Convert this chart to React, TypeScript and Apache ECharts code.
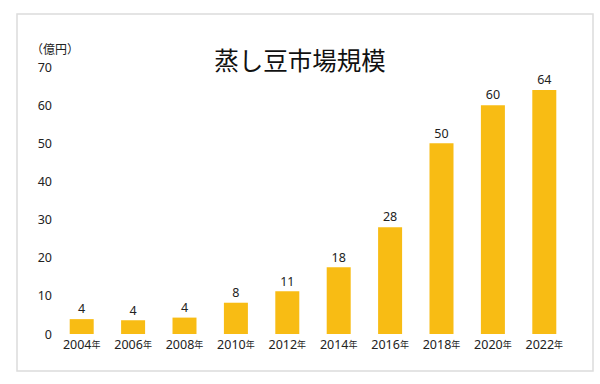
import React, { useEffect, useRef } from "react";
import * as echarts from "echarts";

const categories = ["2004", "2006", "2008", "2010", "2012", "2014", "2016", "2018", "2020", "2022"];
const values = [3.9, 3.6, 4.3, 8.2, 11.2, 17.5, 28, 50, 60, 64];
const valueLabels = [4, 4, 4, 8, 11, 18, 28, 50, 60, 64];
const yTicks = [0, 10, 20, 30, 40, 50, 60, 70];

const FONT = "'Noto Sans', 'Noto Sans CJK JP', sans-serif";
const CJK = "'Noto Sans CJK JP', sans-serif";

export default function App() {
  const ref = useRef<HTMLDivElement>(null);
  useEffect(() => {
    document.body.style.margin = "0";
    const chart = echarts.init(ref.current!, null, { renderer: "svg" });
    chart.setOption({
      animation: false,
      backgroundColor: "#ffffff",
      textStyle: { fontFamily: FONT },
      title: {
        text: "蒸し豆市場規模",
        left: "center",
        top: 42,
        textStyle: { fontSize: 24.5, fontWeight: "normal", color: "#111", fontFamily: CJK },
      },
      graphic: [
        {
          type: "rect",
          shape: { x: 17, y: 14, width: 576, height: 357 },
          style: { fill: "none", stroke: "#dcdcdc", lineWidth: 1.5 },
          silent: true,
        },
        {
          type: "text",
          left: 31,
          top: 42,
          style: { text: "（億円）", fontSize: 12, fill: "#222", fontFamily: CJK },
        },
      ],
      grid: { left: 56, right: 30, top: 67, bottom: 50, containLabel: false },
      xAxis: {
        type: "category",
        data: categories,
        axisLine: { show: false },
        axisTick: { show: false },
        axisLabel: {
          interval: 0,
          margin: 4,
          formatter: (v: string) => `{y|${v}}{n|年}`,
          rich: {
            y: { fontSize: 12.5, color: "#222", fontFamily: FONT },
            n: { fontSize: 9, color: "#222", fontFamily: CJK },
          },
        },
      },
      yAxis: {
        type: "value",
        min: yTicks[0],
        max: yTicks[yTicks.length - 1],
        interval: 10,
        splitLine: { show: false },
        axisLine: { show: false },
        axisTick: { show: false },
        axisLabel: { margin: 4, fontSize: 12.5, color: "#222", fontFamily: FONT },
      },
      series: [
        {
          type: "bar",
          data: values,
          barWidth: 24,
          itemStyle: { color: "#F8BC14" },
          label: {
            show: true,
            position: "top",
            distance: 4,
            fontSize: 12.5,
            color: "#222",
            fontFamily: FONT,
            formatter: (p: any) => String(valueLabels[p.dataIndex]),
          },
        },
      ],
    });
    return () => chart.dispose();
  }, []);
  return <div ref={ref} style={{ width: 600, height: 384 }} />;
}
